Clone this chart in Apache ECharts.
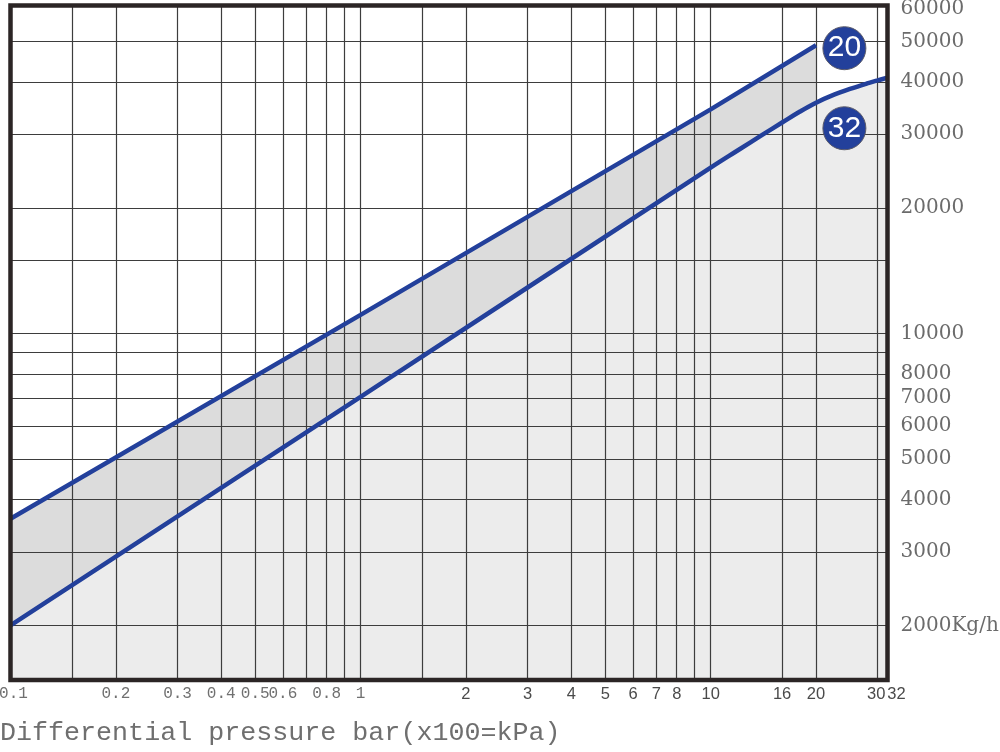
<!DOCTYPE html>
<html><head><meta charset="utf-8">
<script src="https://cdn.jsdelivr.net/npm/echarts@6/dist/echarts.min.js"></script>
<style>html,body{margin:0;padding:0;background:#fff}#c{width:1000px;height:752px}</style>
</head><body><div id="c"></div>
<script>
// ---- data ----
const pressureUpper = [0.1, 1, 10, 20];
const flowUpper = [3600, 11080, 34400, 49000];           // curve "20"
const pressureLower = [0.1, 1, 10, 12, 14, 16, 18, 20, 22, 25, 28, 30, 32];
const flowLower = [2000, 7050, 24950, 27500, 29850, 32000, 34000, 35700, 37000, 38500, 39700, 40350, 41000]; // curve "32"
const xLabelValues = [0.1, 0.2, 0.3, 0.4, 0.5, 0.6, 0.8, 1, 2, 3, 4, 5, 6, 7, 8, 10, 16, 20, 30, 32];
const xGridValues = [0.15, 0.2, 0.3, 0.4, 0.5, 0.6, 0.7, 0.8, 0.9, 1, 1.5, 2, 3, 4, 5, 6, 7, 8, 9, 10, 16, 20, 30];
const yLabelValues = [2000, 3000, 4000, 5000, 6000, 7000, 8000, 10000, 20000, 30000, 40000, 50000, 60000];
const yGridValues = [2000, 3000, 4000, 5000, 6000, 7000, 8000, 9000, 10000, 15000, 20000, 30000, 40000, 50000];
const badgeNames = ['20', '32'];
const badgePressure = [24.1, 24.1];
const badgeFlow = [48200, 31000];
const xTitle = 'Differential pressure bar(x100=kPa)';
const yUnit = 'Kg/h';

const upperData = pressureUpper.map((p, i) => [p, flowUpper[i]]);
const lowerData = pressureLower.map((p, i) => [p, flowLower[i]]);
const badgeData = badgeNames.map((n, i) => [badgePressure[i], badgeFlow[i], n]);

const blue = '#23409b';
const gridColor = '#3d3d3d';

const fmtX = v => {
  const s = String(+(+v).toPrecision(6));
  if (s === '0.1') return '{e|' + s + '}';
  if (+v < 1.5) return '{a|' + s + '}';
  if (s === '30') return '{c|' + s + '}';
  if (s === '32') return '{d|' + s + '}';
  return '{b|' + s + '}';
};
const fmtY = v => {
  const n = Math.round(+v);
  return n === 2000 ? n + yUnit : String(n);
};

const chart = echarts.init(document.getElementById('c'), null, {renderer: 'canvas'});
chart.setOption({
  animation: false,
  backgroundColor: '#ffffff',
  title: {
    text: xTitle, left: 0, top: 719, padding: 0,
    textStyle: {fontFamily: 'Liberation Mono', fontSize: 26.7, fontWeight: 'normal', color: '#6f6f6f'}
  },
  grid: {
    left: 10.5, right: 112.5, top: 5.5, bottom: 72,
    show: true, borderColor: '#2b2525', borderWidth: 4.5, backgroundColor: 'transparent',
    z: 5, containLabel: false, outerBoundsMode: 'none'
  },
  xAxis: {
    type: 'log', min: 0.1, max: 32, z: 3,
    axisLine: {show: false},
    axisTick: {show: false, customValues: xGridValues},
    splitLine: {show: true, lineStyle: {color: gridColor, width: 1.2}},
    axisLabel: {
      customValues: xLabelValues, formatter: fmtX, margin: 6,
      fontSize: 16, fontFamily: 'Liberation Sans', color: '#4a4a4a',
      showMinLabel: true, showMaxLabel: true, hideOverlap: false, interval: 0,
      rich: {
        a: {fontFamily: 'Liberation Mono', fontSize: 16, color: '#707070'},
        e: {fontFamily: 'Liberation Mono', fontSize: 16, color: '#707070', padding: [0, 0, 0, 6]},
        b: {fontFamily: 'Liberation Sans', fontSize: 16.5, color: '#4a4a4a'},
        c: {fontFamily: 'Liberation Sans', fontSize: 16.5, color: '#4a4a4a', padding: [0, 3, 0, 0]},
        d: {fontFamily: 'Liberation Sans', fontSize: 16.5, color: '#4a4a4a', padding: [0, 0, 0, 18]}
      }
    }
  },
  yAxis: {
    type: 'log', position: 'right', min: 1480, max: 61000, z: 3,
    axisLine: {show: false},
    axisTick: {show: false, customValues: yGridValues},
    splitLine: {show: true, lineStyle: {color: gridColor, width: 1.2}},
    axisLabel: {
      customValues: yLabelValues, formatter: fmtY, margin: 13,
      showMinLabel: true, showMaxLabel: true, hideOverlap: false,
      fontFamily: 'DejaVu Serif', fontSize: 20, color: '#6b6b6b'
    }
  },
  series: [
    {type: 'line', name: 'band20', data: upperData, symbol: 'none', silent: true,
     lineStyle: {width: 0, opacity: 0}, areaStyle: {color: '#dcdcdc', opacity: 1}, z: 1},
    {type: 'line', name: 'band32', data: lowerData, symbol: 'none', silent: true, smooth: 0.4,
     lineStyle: {width: 0, opacity: 0}, areaStyle: {color: '#ececec', opacity: 1}, z: 2},
    {type: 'line', name: '20', data: upperData, symbol: 'none', silent: true,
     lineStyle: {width: 4.5, color: blue}, z: 4},
    {type: 'line', name: '32', data: lowerData, symbol: 'none', silent: true, smooth: 0.4,
     lineStyle: {width: 4.5, color: blue}, z: 4},
    {type: 'scatter', name: 'badges', data: badgeData, symbol: 'circle', symbolSize: 43, silent: true, z: 6,
     itemStyle: {color: blue, borderColor: '#5a5a6a', borderWidth: 1, opacity: 1},
     label: {show: true, position: 'inside', formatter: p => p.value[2], color: '#ffffff',
             fontFamily: 'Liberation Sans', fontSize: 30}}
  ]
});
</script></body></html>
